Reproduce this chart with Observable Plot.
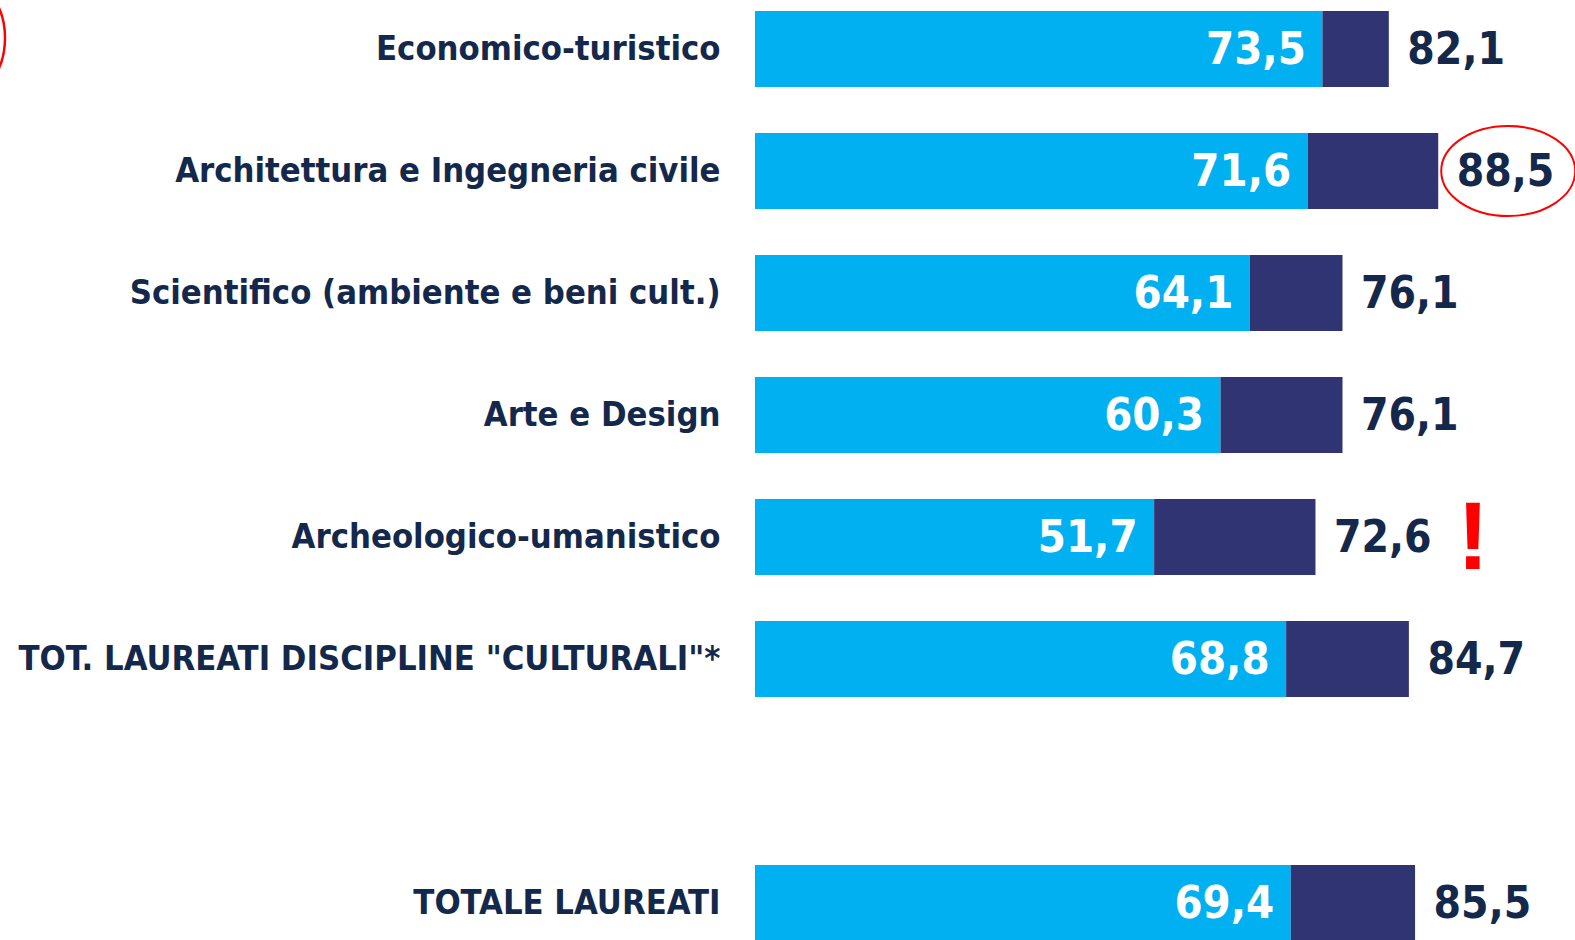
<!DOCTYPE html>
<html>
<head>
<meta charset="utf-8">
<script src="https://cdn.jsdelivr.net/npm/d3@7"></script>
<script src="https://cdn.jsdelivr.net/npm/@observablehq/plot@0.6"></script>
<style>
  html, body { margin: 0; padding: 0; background: #fff; }
  #chart svg { display: block; }
</style>
</head>
<body>
<div id="chart"></div>
<script>
const categories = [
  "Economico-turistico",
  "Architettura e Ingegneria civile",
  "Scientifico (ambiente e beni cult.)",
  "Arte e Design",
  "Archeologico-umanistico",
  "TOT. LAUREATI DISCIPLINE \"CULTURALI\"*",
  "",
  "TOTALE LAUREATI"
];
const firstValues  = [73.5, 71.6, 64.1, 60.3, 51.7, 68.8, null, 69.4];
const secondValues = [82.1, 88.5, 76.1, 76.1, 72.6, 84.7, null, 85.5];
const circled = "Architettura e Ingegneria civile";
const warned = "Archeologico-umanistico";

const data = categories.map((c, i) => ({cat: c, v1: firstValues[i], v2: secondValues[i]}))
  .filter(d => d.v1 != null);
const fmt = v => v.toFixed(1).replace(".", ",");

const LIGHT = "#00B0F0", DARK = "#303473", TEXT = "#14284B";
const FONT = "'DejaVu Sans Condensed', 'DejaVu Sans', sans-serif";

const chart = Plot.plot({
  width: 1575,
  height: 940,
  margin: 0,
  style: {background: "#fff", fontFamily: FONT},
  x: {domain: [0, 100], range: [755, 1527], axis: null},
  y: {domain: categories, range: [-13.1, 964.5], paddingInner: 0.378, paddingOuter: 0.189, align: 0.5, axis: null},
  marks: [
    Plot.barX(data, {y: "cat", x1: 0, x2: "v1", fill: LIGHT}),
    Plot.barX(data, {y: "cat", x1: "v1", x2: "v2", fill: DARK}),
    Plot.text(data, {y: "cat", x: "v1", text: d => fmt(d.v1), dx: -17, textAnchor: "end",
      fill: "#fff", fontSize: 45, fontWeight: "bold", fontFamily: FONT}),
    Plot.text(data, {y: "cat", x: "v2", text: d => fmt(d.v2), dx: 18, textAnchor: "start",
      fill: TEXT, fontSize: 44, fontWeight: "bold", fontFamily: FONT}),
    Plot.text(data, {y: "cat", x: () => 0, text: "cat", dx: -35, textAnchor: "end",
      fill: TEXT, fontSize: 34.3, fontWeight: "bold", fontFamily: FONT}),
    Plot.text(data.filter(d => d.cat === warned), {y: "cat", x: "v2", text: () => "!", dx: 157, dy: 1,
      fill: "#FF0000", fontSize: 96, fontWeight: "bold", fontFamily: "'Liberation Sans', Arial, sans-serif"})
  ]
});

// annotation ellipses, positioned through the chart's own scales
const xs = chart.scale("x"), ys = chart.scale("y");
const svg = d3.select(chart);
const dc = data.find(d => d.cat === circled);
svg.append("ellipse")
  .attr("cx", xs.apply(dc.v2) + 70)
  .attr("cy", ys.apply(dc.cat) + ys.bandwidth / 2)
  .attr("rx", 67).attr("ry", 45)
  .attr("fill", "none").attr("stroke", "#FF0000").attr("stroke-width", 2);
svg.append("ellipse")
  .attr("cx", -40)
  .attr("cy", ys.apply(categories[0]) + ys.bandwidth / 2 - 11)
  .attr("rx", 45).attr("ry", 60)
  .attr("fill", "none").attr("stroke", "#FF0000").attr("stroke-width", 2.5);

document.getElementById("chart").appendChild(chart);
</script>
</body>
</html>
